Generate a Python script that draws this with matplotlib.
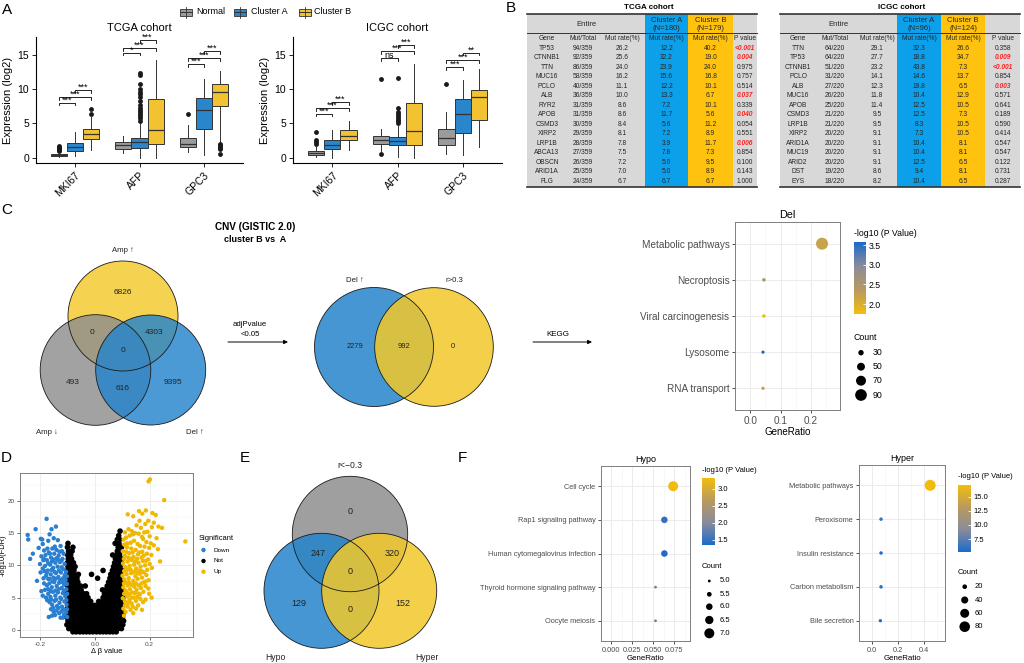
import numpy as np
import matplotlib
matplotlib.use('Agg')
import matplotlib.pyplot as plt
from matplotlib.patches import Rectangle, Circle
from matplotlib.colors import LinearSegmentedColormap, Normalize
from matplotlib.cm import ScalarMappable
from matplotlib.ticker import FormatStrFormatter

plt.rcParams['font.family'] = ['Liberation Sans', 'DejaVu Sans']

W, H = 1024, 663

# ---------------- A: expression boxplots ----------------
box_genes = ['MKI67', 'AFP', 'GPC3']
box_groups = ['Normal', 'Cluster A', 'Cluster B']
box_colors = ['#9b9b9b', '#2a86cc', '#f2c230']

# rows = genes, cols = Normal / Cluster A / Cluster B
tcga_q1 = [[0.25, 1.0, 2.7], [1.3, 1.4, 2.0], [1.5, 4.2, 7.5]]
tcga_med = [[0.4, 1.6, 3.4], [1.8, 2.2, 4.0], [2.0, 6.9, 9.5]]
tcga_q3 = [[0.5, 2.1, 4.2], [2.2, 2.9, 8.6], [2.9, 8.7, 10.8]]
tcga_lo = [[0.05, 0.2, 1.1], [0.6, 0.0, 0.0], [0.8, 0.3, 2.3]]
tcga_hi = [[0.85, 3.7, 5.9], [3.1, 5.0, 14.3], [4.8, 11.4, 12.6]]
tcga_out = [[[1.0, 1.15, 1.3, 1.45, 1.6, 1.7], [], [6.3, 7.1]],
            [[], [5.3, 5.7, 6.0, 6.3, 6.6, 6.9, 7.2, 7.7, 8.2, 8.8, 9.3, 9.6, 10.0, 10.8, 12.0, 12.3], []],
            [[6.3], [], [0.5, 1.2, 1.4, 1.6, 1.8, 2.0]]]
tcga_sig = [(0, 0, 1, 8.0, '***'), (0, 0, 2, 8.8, '***'), (0, 1, 2, 9.85, '***'),
            (1, 0, 1, 15.3, '*'), (1, 0, 2, 16.0, '***'), (1, 1, 2, 17.1, '***'),
            (2, 0, 1, 13.6, '***'), (2, 0, 2, 14.5, '***'), (2, 1, 2, 15.5, '***')]

icgc_q1 = [[0.4, 1.2, 2.5], [2.0, 1.9, 1.9], [1.8, 3.6, 5.5]]
icgc_med = [[0.7, 1.9, 3.2], [2.6, 2.4, 3.9], [2.9, 6.4, 8.9]]
icgc_q3 = [[0.9, 2.6, 4.0], [3.1, 3.0, 7.9], [4.2, 8.5, 9.9]]
icgc_lo = [[0.1, 0.0, 1.1], [1.0, 0.1, 0.0], [0.5, 0.3, 1.6]]
icgc_hi = [[1.6, 4.0, 5.4], [4.1, 4.6, 13.7], [6.6, 11.3, 13.0]]
icgc_out = [[[2.0, 2.3, 2.6, 3.8], [], []],
            [[0.5, 11.5], [5.0, 5.3, 5.5, 5.8, 6.0, 6.3, 6.6, 7.3, 11.6], []],
            [[10.8], [], []]]
icgc_sig = [(0, 0, 1, 6.4, '***'), (0, 0, 2, 7.2, '***'), (0, 1, 2, 8.1, '***'),
            (1, 0, 1, 14.5, 'ns'), (1, 0, 2, 15.5, '***'), (1, 1, 2, 16.4, '***'),
            (2, 0, 1, 13.2, '***'), (2, 0, 2, 14.2, '***'), (2, 1, 2, 15.3, '**')]

# ---------------- B: mutation tables ----------------
tcga_genes = ['TP53', 'CTNNB1', 'TTN', 'MUC16', 'PCLO', 'ALB', 'RYR2', 'APOB', 'CSMD3', 'XIRP2',
              'LRP1B', 'ABCA13', 'OBSCN', 'ARID1A', 'FLG']
tcga_mut = [94, 92, 86, 58, 40, 36, 31, 31, 30, 29, 28, 27, 26, 25, 24]
tcga_total = 359
tcga_rate = [26.2, 25.6, 24.0, 16.2, 11.1, 10.0, 8.6, 8.6, 8.4, 8.1, 7.8, 7.5, 7.2, 7.0, 6.7]
tcga_rate_a = [12.2, 32.2, 23.9, 15.6, 12.2, 13.3, 7.2, 11.7, 5.6, 7.2, 3.9, 7.8, 5.0, 5.0, 6.7]
tcga_rate_b = [40.2, 19.0, 24.0, 16.8, 10.1, 6.7, 10.1, 5.6, 11.2, 8.9, 11.7, 7.3, 9.5, 8.9, 6.7]
tcga_p = ['<0.001', '0.004', '0.975', '0.757', '0.514', '0.037', '0.339', '0.040', '0.054', '0.551',
          '0.006', '0.854', '0.100', '0.143', '1.000']

icgc_genes = ['TTN', 'TP53', 'CTNNB1', 'PCLO', 'ALB', 'MUC16', 'APOB', 'CSMD3', 'LRP1B', 'XIRP2',
              'ARID1A', 'MUC19', 'ARID2', 'DST', 'EYS']
icgc_mut = [64, 64, 51, 31, 27, 26, 25, 21, 21, 20, 20, 20, 20, 19, 18]
icgc_total = 220
icgc_rate = [29.1, 27.7, 23.2, 14.1, 12.3, 11.8, 11.4, 9.5, 9.5, 9.1, 9.1, 9.1, 9.1, 8.6, 8.2]
icgc_rate_a = [32.3, 18.8, 43.8, 14.6, 19.8, 10.4, 12.5, 12.5, 8.3, 7.3, 10.4, 10.4, 12.5, 9.4, 10.4]
icgc_rate_b = [26.6, 34.7, 7.3, 13.7, 6.5, 12.9, 10.5, 7.3, 10.5, 10.5, 8.1, 8.1, 6.5, 8.1, 6.5]
icgc_p = ['0.358', '0.009', '<0.001', '0.854', '0.003', '0.571', '0.641', '0.189', '0.590', '0.414',
          '0.547', '0.547', '0.122', '0.731', '0.287']

# ---------------- C: CNV venns + KEGG (Del) ----------------
cnv_sets = ['Amp ↑', 'Amp ↓', 'Del ↑']
# only AmpUp, AmpUp&AmpDown, AmpUp&DelUp, all three, only AmpDown, AmpDown&DelUp, only DelUp
cnv_counts = [6826, 0, 4303, 0, 493, 616, 9395]
del_sets = ['Del ↑', 'r>0.3']
del_counts = [2279, 992, 0]

del_terms = ['Metabolic pathways', 'Necroptosis', 'Viral carcinogenesis', 'Lysosome', 'RNA transport']
del_ratio = [0.236, 0.045, 0.045, 0.042, 0.042]
del_count = [94, 18, 18, 17, 17]
del_logp = [2.2, 2.6, 1.8, 3.55, 2.2]

# ---------------- D: volcano ----------------
down_pts = [(-0.245, 14.7), (-0.243, 14.0), (-0.236, 11.0), (-0.226, 11.8), (-0.216, 15.6), (-0.211, 7.6),
            (-0.176, 17.2), (-0.158, 15.6), (-0.142, 16.0), (-0.197, 14.1), (-0.192, 14.0), (-0.185, 12.3),
            (-0.205, 12.7), (-0.19, 13.3), (-0.165, 14.8), (-0.15, 14.2), (-0.17, 13.8), (-0.135, 13.9),
            (-0.125, 13.0), (-0.12, 12.2), (-0.18, 11.6), (-0.175, 10.8), (-0.168, 12.0), (-0.16, 11.2),
            (-0.155, 12.6), (-0.148, 11.8), (-0.14, 12.4), (-0.132, 11.5), (-0.118, 11.0), (-0.11, 10.2),
            (-0.19, 9.5), (-0.182, 9.9), (-0.172, 9.2), (-0.163, 10.1), (-0.152, 9.6), (-0.144, 10.4),
            (-0.136, 9.8), (-0.127, 10.5), (-0.115, 9.4), (-0.105, 9.0), (-0.178, 8.4), (-0.17, 7.9),
            (-0.161, 8.6), (-0.151, 8.1), (-0.142, 8.8), (-0.133, 8.2), (-0.124, 8.9), (-0.116, 8.0),
            (-0.107, 7.7), (-0.187, 8.0), (-0.175, 6.9), (-0.166, 7.2), (-0.157, 6.6), (-0.148, 7.4),
            (-0.139, 6.8), (-0.13, 7.3), (-0.121, 6.5), (-0.112, 7.0), (-0.104, 6.3), (-0.182, 6.2),
            (-0.17, 5.6), (-0.162, 5.1), (-0.153, 5.9), (-0.144, 5.3), (-0.135, 5.8), (-0.126, 5.0),
            (-0.117, 5.7), (-0.108, 5.2), (-0.19, 5.3), (-0.178, 5.0), (-0.165, 4.3), (-0.156, 3.9),
            (-0.147, 4.5), (-0.138, 3.7), (-0.129, 4.2), (-0.12, 3.6), (-0.111, 4.4), (-0.103, 3.9),
            (-0.16, 3.2), (-0.15, 2.8), (-0.14, 3.0), (-0.13, 2.6), (-0.121, 2.9), (-0.112, 2.4),
            (-0.105, 2.7), (-0.168, 2.0), (-0.145, 2.3), (-0.125, 1.9), (-0.135, 10.9), (-0.157, 10.6),
            (-0.188, 10.8), (-0.195, 11.4), (-0.2, 10.2), (-0.198, 8.9), (-0.185, 7.2), (-0.195, 6.0),
            (-0.186, 11.0), (-0.173, 12.6), (-0.164, 11.8), (-0.146, 12.9), (-0.129, 12.1), (-0.114, 11.8),
            (-0.122, 10.7), (-0.139, 11.1), (-0.15, 10.9), (-0.17, 10.3), (-0.184, 9.1), (-0.175, 8.9),
            (-0.158, 9.3), (-0.147, 9.0), (-0.131, 9.2), (-0.121, 9.7), (-0.11, 8.5), (-0.102, 8.3),
            (-0.165, 7.9), (-0.154, 7.5), (-0.143, 7.9), (-0.127, 7.7), (-0.118, 7.4), (-0.102, 7.1),
            (-0.171, 6.3), (-0.161, 6.0), (-0.143, 6.1), (-0.132, 6.3), (-0.113, 6.1), (-0.101, 5.6),
            (-0.174, 4.6), (-0.16, 4.7), (-0.141, 4.7), (-0.123, 4.8), (-0.104, 4.6), (-0.152, 3.4),
            (-0.133, 3.4), (-0.115, 3.2), (-0.102, 3.2), (-0.156, 2.2), (-0.117, 1.9), (-0.101, 2.0)]

up_pts = [(0.196, 23.0), (0.201, 23.3), (0.253, 20.1), (0.33, 13.7), (0.238, 10.6), (0.245, 15.8),
          (0.232, 16.0), (0.186, 18.5), (0.173, 18.0), (0.161, 18.4), (0.14, 17.6), (0.12, 17.9),
          (0.215, 16.6), (0.195, 16.9), (0.21, 18.1), (0.222, 17.8), (0.23, 12.5), (0.225, 14.2),
          (0.105, 14.0), (0.11, 15.1), (0.118, 13.4), (0.127, 14.6), (0.135, 15.3), (0.143, 13.8),
          (0.152, 16.2), (0.16, 14.9), (0.168, 15.8), (0.176, 14.1), (0.184, 16.4), (0.192, 15.2),
          (0.2, 14.5), (0.208, 15.9), (0.102, 12.2), (0.109, 11.5), (0.117, 12.8), (0.125, 11.9),
          (0.133, 12.6), (0.141, 11.3), (0.149, 12.4), (0.157, 11.7), (0.165, 13.0), (0.173, 12.1),
          (0.181, 12.9), (0.19, 11.8), (0.198, 12.7), (0.206, 11.6), (0.215, 13.1), (0.103, 10.3),
          (0.111, 9.7), (0.119, 10.6), (0.127, 9.9), (0.135, 10.8), (0.143, 10.1), (0.151, 9.5),
          (0.159, 10.4), (0.167, 9.8), (0.175, 10.7), (0.183, 10.0), (0.191, 9.3), (0.2, 10.2),
          (0.208, 9.6), (0.101, 8.4), (0.108, 7.8), (0.116, 8.6), (0.124, 8.0), (0.132, 8.8),
          (0.14, 7.6), (0.148, 8.3), (0.156, 7.9), (0.164, 8.7), (0.172, 8.1), (0.18, 7.4),
          (0.188, 8.5), (0.196, 7.7), (0.104, 6.6), (0.112, 6.1), (0.12, 6.9), (0.128, 6.3),
          (0.136, 5.8), (0.144, 6.7), (0.152, 6.2), (0.16, 5.6), (0.168, 6.5), (0.177, 5.9),
          (0.185, 6.8), (0.195, 6.4), (0.102, 4.9), (0.11, 4.4), (0.118, 5.2), (0.126, 4.6),
          (0.134, 4.1), (0.142, 5.0), (0.15, 4.5), (0.158, 3.8), (0.166, 4.8), (0.176, 4.3),
          (0.104, 3.3), (0.112, 2.8), (0.12, 3.6), (0.13, 3.1), (0.106, 2.2), (0.14, 2.6),
          (0.172, 3.1), (0.185, 4.7), (0.207, 5.0), (0.198, 5.6),
          (0.107, 13.2), (0.114, 14.3), (0.123, 15.6), (0.131, 13.5), (0.139, 14.8), (0.147, 15.0),
          (0.156, 13.3), (0.163, 16.9), (0.172, 14.4), (0.18, 15.1), (0.188, 13.6), (0.204, 13.4),
          (0.106, 11.0), (0.114, 12.1), (0.122, 11.2), (0.13, 11.0), (0.138, 12.0), (0.146, 10.6),
          (0.154, 11.0), (0.162, 12.0), (0.17, 11.2), (0.178, 11.5), (0.186, 10.7), (0.194, 10.9),
          (0.107, 9.1), (0.115, 9.2), (0.123, 9.4), (0.131, 9.3), (0.139, 8.9), (0.147, 9.1),
          (0.155, 8.8), (0.163, 9.2), (0.171, 9.1), (0.179, 8.9), (0.106, 7.2), (0.115, 7.3),
          (0.124, 7.4), (0.133, 7.0), (0.142, 7.1), (0.15, 7.2), (0.16, 6.9), (0.17, 7.2),
          (0.185, 7.5), (0.107, 5.6), (0.116, 5.8), (0.125, 5.5), (0.134, 5.0), (0.146, 5.7),
          (0.155, 5.1), (0.164, 5.5), (0.11, 3.8), (0.122, 4.2), (0.138, 3.6), (0.15, 3.3)]

# not significant: rows of (-log10 FDR, delta beta values)
not_rows = [
    (-0.3, [-0.08, -0.068, -0.055, -0.043, -0.031, -0.019, -0.007, 0.006, 0.018, 0.03, 0.042, 0.054, 0.066, 0.078]),
    (0.2, [-0.095, -0.083, -0.071, -0.059, -0.047, -0.035, -0.023, -0.011, 0.001, 0.013, 0.025, 0.037, 0.049,
           0.061, 0.073, 0.085, 0.097]),
    (0.8, [-0.102, -0.09, -0.078, -0.066, -0.054, -0.042, -0.03, -0.018, -0.006, 0.006, 0.018, 0.03, 0.042,
           0.054, 0.066, 0.078, 0.09, 0.102]),
    (1.4, [-0.098, -0.086, -0.074, -0.062, -0.05, -0.038, -0.026, -0.014, -0.002, 0.01, 0.022, 0.034, 0.046,
           0.058, 0.07, 0.082, 0.094, 0.105]),
    (2.0, [-0.103, -0.091, -0.079, -0.067, -0.055, -0.043, -0.031, -0.019, -0.007, 0.005, 0.017, 0.029, 0.041,
           0.053, 0.065, 0.077, 0.089, 0.101]),
    (2.6, [-0.099, -0.087, -0.075, -0.063, -0.051, -0.039, -0.027, -0.015, -0.003, 0.009, 0.021, 0.033, 0.045,
           0.057, 0.069, 0.081, 0.093, 0.104]),
    (3.2, [-0.102, -0.09, -0.078, -0.066, -0.054, -0.042, -0.03, -0.018, -0.006, 0.005, 0.014, 0.026, 0.038,
           0.05, 0.062, 0.074, 0.086, 0.098]),
    (3.8, [-0.098, -0.086, -0.074, -0.062, -0.05, -0.038, -0.026, -0.012, 0.0, 0.012, 0.024, 0.036, 0.048,
           0.06, 0.072, 0.084, 0.096]),
    (4.4, [-0.101, -0.089, -0.077, -0.065, -0.053, -0.041, -0.029, -0.015, 0.014, 0.027, 0.039, 0.051, 0.063,
           0.075, 0.087, 0.099]),
    (5.0, [-0.099, -0.087, -0.075, -0.063, -0.051, -0.038, -0.025, 0.03, 0.042, 0.054, 0.066, 0.078, 0.09, 0.102]),
    (5.6, [-0.102, -0.09, -0.078, -0.066, -0.054, -0.041, -0.03, 0.035, 0.047, 0.059, 0.071, 0.083, 0.095]),
    (6.2, [-0.099, -0.087, -0.075, -0.063, -0.05, 0.028, 0.04, 0.052, 0.064, 0.076, 0.088, 0.1]),
    (6.8, [-0.1, -0.088, -0.076, -0.064, -0.052, -0.035, 0.045, 0.057, 0.069, 0.081, 0.093]),
    (7.4, [-0.098, -0.086, -0.074, -0.062, 0.05, 0.062, 0.074, 0.086, 0.098]),
    (8.0, [-0.101, -0.089, -0.077, -0.065, 0.01, 0.055, 0.067, 0.079, 0.091]),
    (8.6, [-0.099, -0.087, -0.075, -0.06, -0.012, 0.058, 0.07, 0.082, 0.094]),
    (9.2, [-0.1, -0.088, -0.076, 0.03, 0.064, 0.076, 0.088, 0.1]),
    (9.8, [-0.098, -0.086, -0.072, 0.068, 0.08, 0.092]),
    (10.4, [-0.1, -0.088, -0.078, 0.072, 0.084, 0.096]),
    (11.0, [-0.097, -0.085, 0.075, 0.087, 0.099]),
    (11.6, [-0.099, -0.088, 0.065, 0.078, 0.09]),
    (12.2, [-0.096, -0.083, 0.082, 0.094]),
    (12.8, [-0.1, -0.08, 0.085, 0.097]),
    (13.4, [-0.098, 0.074, 0.088]),
    (14.0, [0.082, 0.09]),
    (14.6, [0.087]),
    (15.3, [0.092]),
]

# ---------------- E / F: methylation ----------------
meth_sets = ['r<−0.3', 'Hypo', 'Hyper']
# only r, r&Hypo, r&Hyper, all three, only Hypo, Hypo&Hyper, only Hyper
meth_counts = [0, 247, 320, 0, 129, 0, 152]

hypo_terms = ['Cell cycle', 'Rap1 signaling pathway', 'Human cytomegalovirus infection',
              'Thyroid hormone signaling pathway', 'Oocyte meiosis']
hypo_ratio = [0.0737, 0.0632, 0.0632, 0.0526, 0.0526]
hypo_count = [7, 6, 6, 5, 5]
hypo_logp = [3.3, 1.5, 1.38, 1.8, 1.8]

hyper_terms = ['Metabolic pathways', 'Peroxisome', 'Insulin resistance', 'Carbon metabolism', 'Bile secretion']
hyper_ratio = [0.446, 0.069, 0.069, 0.069, 0.064]
hyper_count = [86, 13, 13, 13, 12]
hyper_logp = [17.0, 6.2, 5.5, 5.6, 5.3]

cmap_yb = LinearSegmentedColormap.from_list('yb', ['#f3bd0c', '#b89a60', '#8a8b9a', '#1b6bcb'])
cmap_by = cmap_yb.reversed()


def px_rect(l, t, r, b):
    return [l / W, 1 - b / H, (r - l) / W, (b - t) / H]


fig = plt.figure(figsize=(W / 100, H / 100), dpi=100)
ov = fig.add_axes([0, 0, 1, 1])
ov.set_xlim(0, W)
ov.set_ylim(H, 0)
ov.axis('off')
ov.patch.set_alpha(0)

for lab, x, y in [('A', 7, 10), ('B', 511, 8), ('C', 7, 210), ('D', 6, 458), ('E', 245, 458), ('F', 462, 458)]:
    ov.text(x, y, lab, fontsize=11, ha='center', va='center')


def box_panel(rect, title, q1, med, q3, lo, hi, out, sig):
    ax = fig.add_axes(px_rect(*rect))
    offs = [-0.25, 0.0, 0.25]
    for gi in range(3):
        for k in range(3):
            st = dict(med=med[gi][k], q1=q1[gi][k], q3=q3[gi][k], whislo=lo[gi][k],
                      whishi=hi[gi][k], fliers=out[gi][k])
            ax.bxp([st], positions=[gi + 1 + offs[k]], widths=0.25, patch_artist=True,
                   showcaps=False, manage_ticks=False,
                   boxprops=dict(facecolor=box_colors[k], edgecolor='#333333', linewidth=0.7),
                   medianprops=dict(color='#333333', linewidth=0.9),
                   whiskerprops=dict(color='#333333', linewidth=0.7),
                   flierprops=dict(marker='o', markerfacecolor='#1a1a1a', markeredgecolor='none',
                                   markersize=3.5))
    for gi, a, b, y, lab in sig:
        x1, x2 = gi + 1 + offs[a], gi + 1 + offs[b]
        ax.plot([x1, x1, x2, x2], [y - 0.4, y, y, y - 0.4], color='black', lw=0.6)
        ax.text((x1 + x2) / 2, y + 0.05, lab, ha='center', va='baseline', fontsize=6.5)
    ax.set_xlim(0.4, 3.6)
    ax.set_ylim(-0.8, 17.6)
    ax.set_xticks([1, 2, 3])
    ax.set_xticklabels(box_genes, rotation=45, ha='right', rotation_mode='anchor')
    ax.set_yticks([0, 5, 10, 15])
    ax.tick_params(labelsize=7.5, length=3, width=0.6, pad=2)
    for s in ['top', 'right']:
        ax.spines[s].set_visible(False)
    for s in ['left', 'bottom']:
        ax.spines[s].set_linewidth(0.8)
    ax.set_ylabel('Expression (log2)', fontsize=8, labelpad=3)
    ax.set_title(title, fontsize=8, pad=4)
    return ax


box_panel((36, 37, 243, 163), 'TCGA cohort', tcga_q1, tcga_med, tcga_q3, tcga_lo, tcga_hi, tcga_out, tcga_sig)
box_panel((293, 37, 502, 163), 'ICGC cohort', icgc_q1, icgc_med, icgc_q3, icgc_lo, icgc_hi, icgc_out, icgc_sig)

# group legend on top
for cx, tx, name, col in zip([186, 240, 305], [196, 251, 314], box_groups, box_colors):
    ov.plot([cx, cx], [6.5, 17.5], color='#333333', lw=0.6)
    ov.add_patch(Rectangle((cx - 6, 8.5), 12, 7, facecolor=col, edgecolor='#333333', lw=0.6))
    ov.plot([cx - 6, cx + 6], [12, 12], color='#333333', lw=0.7)
    ov.text(tx, 12, name, fontsize=6.5, va='center', ha='left')


def draw_table(edges, centers, title, title_x, n_a, n_b, genes, mut, total, rate, ra, rb, pv):
    top, hline, bot = 14, 33.3, 186.7
    x0, xa, xb, xc, x1 = edges
    ov.add_patch(Rectangle((x0, top), x1 - x0, bot - top, facecolor='#d8d8d8', edgecolor='none'))
    ov.add_patch(Rectangle((xa, top), xb - xa, bot - top, facecolor='#0da0ea', edgecolor='none'))
    ov.add_patch(Rectangle((xb, top), xc - xb, bot - top, facecolor='#ffc20e', edgecolor='none'))
    ov.plot([x0, x1], [top, top], color='#333333', lw=1.2)
    ov.plot([x0, x1], [hline, hline], color='#333333', lw=0.7)
    ov.plot([x0, x1], [bot, bot], color='#333333', lw=1.2)
    tc = '#262626'
    fs = 4.8
    ov.text(title_x, 7.5, title, fontsize=5.8, fontweight='bold', ha='center', va='center')
    ov.text((x0 + xa) / 2, 24.3, 'Entire', fontsize=5.5, ha='center', va='center', color=tc)
    ov.text(centers[3], 20, 'Cluster A', fontsize=5.5, ha='center', va='center', color=tc)
    ov.text(centers[3], 28.3, '(N=%d)' % n_a, fontsize=5.5, ha='center', va='center', color=tc)
    ov.text(centers[4], 20, 'Cluster B', fontsize=5.5, ha='center', va='center', color=tc)
    ov.text(centers[4], 28.3, '(N=%d)' % n_b, fontsize=5.5, ha='center', va='center', color=tc)
    heads = ['Gene', 'Mut/Total', 'Mut rate(%)', 'Mut rate(%)', 'Mut rate(%)', 'P value']
    for cx, h in zip(centers, heads):
        ov.text(cx, 38.5, h, fontsize=fs, ha='center', va='center', color=tc)
    for i in range(len(genes)):
        y = 48 + i * 9.52
        cells = [genes[i], '%d/%d' % (mut[i], total), '%.1f' % rate[i], '%.1f' % ra[i], '%.1f' % rb[i]]
        for cx, s in zip(centers[:5], cells):
            ov.text(cx, y, s, fontsize=fs, ha='center', va='center', color=tc)
        sig = pv[i].startswith('<') or float(pv[i]) < 0.05
        if sig:
            ov.text(centers[5], y, pv[i], fontsize=fs, ha='center', va='center', color='#ff1f1f',
                    fontweight='bold', fontstyle='italic')
        else:
            ov.text(centers[5], y, pv[i], fontsize=fs, ha='center', va='center', color=tc)


draw_table([527, 645, 688, 733, 757], [547, 583, 622, 666.5, 710.5, 745], 'TCGA cohort', 649, 180, 179,
           tcga_genes, tcga_mut, tcga_total, tcga_rate, tcga_rate_a, tcga_rate_b, tcga_p)
draw_table([780, 897, 941, 985, 1020], [798, 835, 877, 919, 963, 1003], 'ICGC cohort', 902, 96, 124,
           icgc_genes, icgc_mut, icgc_total, icgc_rate, icgc_rate_a, icgc_rate_b, icgc_p)


# ---------------- venn diagrams ----------------
def venn(circles, colors, alpha, counts, count_xy, labels, label_xy, fs_n, fs_l):
    for (cx, cy, r), col in zip(circles, colors):
        ov.add_patch(Circle((cx, cy), r, facecolor=col, alpha=alpha, edgecolor='none'))
    for (cx, cy, r) in circles:
        ov.add_patch(Circle((cx, cy), r, facecolor='none', edgecolor='#1a1a1a', lw=0.6))
    for n, (x, y) in zip(counts, count_xy):
        ov.text(x, y, str(n), fontsize=fs_n, ha='center', va='center', color='#222222')
    for lab, (x, y) in zip(labels, label_xy):
        ov.text(x, y, lab, fontsize=fs_l, ha='center', va='center', color='#222222')


ov.text(255, 227, 'CNV (GISTIC 2.0)', fontsize=7.2, fontweight='bold', ha='center', va='center')
ov.text(255, 240, 'cluster B vs  A', fontsize=6.5, fontweight='bold', ha='center', va='center')

venn([(123, 316, 55), (95.5, 370, 55.3), (150.7, 370, 55)], ['#f3c82a', '#8e8e8e', '#2484cc'], 0.82,
     cnv_counts, [(122.7, 293), (91.7, 333), (153.7, 333), (122.7, 350.7), (72.7, 382.7), (122.7, 388.3),
                  (172.7, 382.7)],
     cnv_sets, [(122.7, 250), (46.7, 433), (195, 433)], 6, 5.6)

venn([(374, 347, 59.5), (434, 347, 59.3)], ['#2484cc', '#f3c82a'], 0.85,
     del_counts, [(355, 347), (404, 347), (452.7, 347)],
     del_sets, [(355, 280), (454, 280)], 5.4, 5.6)

venn([(350, 534, 57.7), (321.5, 590.8, 57.5), (379.2, 590.8, 57.5)], ['#8e8e8e', '#2484cc', '#f3c82a'], 0.85,
     meth_counts, [(350, 511), (318.3, 553.3), (391.7, 553.3), (350, 571), (299.3, 604), (350, 610),
                   (402.7, 604)],
     meth_sets, [(350, 465), (275, 657), (426.7, 657)], 6.5, 6.2)

# arrows
ov.text(250, 325, 'adjPvalue', fontsize=5.6, ha='center', va='center')
ov.text(250, 335, '<0.05', fontsize=5.6, ha='center', va='center')
ov.annotate('', xy=(288, 342), xytext=(228, 342),
            arrowprops=dict(arrowstyle='-|>', lw=0.7, color='black', mutation_scale=6, shrinkA=0, shrinkB=0))
ov.text(558, 335, 'KEGG', fontsize=5.8, ha='center', va='center')
ov.annotate('', xy=(592, 342), xytext=(533, 342),
            arrowprops=dict(arrowstyle='-|>', lw=0.7, color='black', mutation_scale=6, shrinkA=0, shrinkB=0))


# ---------------- dot plots ----------------
def dot_px(c, lo, hi, dmin, dmax):
    c = np.asarray(c, dtype=float)
    return dmin + (dmax - dmin) * (np.sqrt(c) - np.sqrt(lo)) / (np.sqrt(hi) - np.sqrt(lo))


def dotplot(rect, title, terms, ratio, count, logp, cmap, vlim, size_rng, xlim, xticks, xfmt, fs_y, fs_t):
    ax = fig.add_axes(px_rect(*rect))
    n = len(terms)
    ys = np.arange(n)[::-1]
    lo, hi, dmin, dmax = size_rng
    ax.scatter(ratio, ys, s=(dot_px(count, lo, hi, dmin, dmax) * 0.72) ** 2, c=logp, cmap=cmap,
               vmin=vlim[0], vmax=vlim[1], edgecolors='none', zorder=3)
    ax.set_yticks(ys)
    ax.set_yticklabels(terms)
    ax.set_ylim(-0.6, n - 0.4)
    ax.set_xlim(*xlim)
    ax.set_xticks(xticks)
    step = xticks[1] - xticks[0]
    ax.set_xticks([t + step / 2 for t in [xticks[0] - step] + list(xticks)], minor=True)
    ax.xaxis.set_major_formatter(FormatStrFormatter(xfmt))
    ax.grid(True, which='major', color='#ebebeb', lw=0.7)
    ax.grid(True, which='minor', axis='x', color='#f2f2f2', lw=0.4)
    ax.set_axisbelow(True)
    ax.tick_params(which='major', labelsize=fs_y, length=2.5, width=0.6, color='#333333',
                   labelcolor='#4d4d4d', pad=1.5)
    ax.tick_params(which='minor', length=0)
    for s in ax.spines.values():
        s.set_color('#7f7f7f')
        s.set_linewidth(0.7)
    ax.set_title(title, fontsize=fs_t, pad=3)
    ax.set_xlabel('GeneRatio', fontsize=fs_t - 0.8, labelpad=1)
    return ax


def colorbar(rect, cmap, vlim, ticks, title_xy, fs):
    cax = fig.add_axes(px_rect(*rect))
    cb = fig.colorbar(ScalarMappable(norm=Normalize(*vlim), cmap=cmap), cax=cax)
    cb.outline.set_visible(False)
    cb.set_ticks(ticks)
    cax.yaxis.set_major_formatter(FormatStrFormatter('%.1f'))
    cax.tick_params(length=2.5, width=0.6, color='white', direction='in', labelsize=fs, pad=2)
    ov.text(title_xy[0], title_xy[1], '-log10 (P Value)', fontsize=fs, ha='left', va='center')


def size_legend(x_title, y_title, x_dot, x_lab, ys, vals, size_rng, fs, fmt):
    lo, hi, dmin, dmax = size_rng
    ov.text(x_title, y_title, 'Count', fontsize=fs, ha='left', va='center')
    for y, v in zip(ys, vals):
        ov.scatter([x_dot], [y], s=(dot_px(v, lo, hi, dmin, dmax) * 0.72) ** 2, color='black',
                   edgecolors='none')
        ov.text(x_lab, y, fmt % v, fontsize=fs, ha='left', va='center')


del_size = (17, 94, 3.3, 12)
dotplot((735, 222, 840, 410), 'Del', del_terms, del_ratio, del_count, del_logp, cmap_yb, (1.75, 3.58),
        del_size, (-0.015, 0.295), [0.0, 0.1, 0.2], '%.1f', 7.2, 7.8)
colorbar((854, 242, 866, 314), cmap_yb, (1.75, 3.58), [2.0, 2.5, 3.0, 3.5], (854, 234), 6.3)
size_legend(854, 337, 861, 873, [352.7, 366.7, 380.7, 395], [30, 50, 70, 90], del_size, 6.3, '%d')

hypo_size = (5, 7, 2.8, 10)
dotplot((601, 466, 690, 641), 'Hypo', hypo_terms, hypo_ratio, hypo_count, hypo_logp, cmap_by, (1.35, 3.32),
        hypo_size, (-0.0048, 0.0938), [0.0, 0.025, 0.05, 0.075], '%.3f', 5.3, 6.5)
colorbar((702, 478, 715, 545), cmap_by, (1.35, 3.32), [1.5, 2.0, 2.5, 3.0], (702, 470.7), 5.5)
size_legend(702, 566, 709.3, 720, [581, 594.3, 606.7, 620, 633.3], [5.0, 5.5, 6.0, 6.5, 7.0], hypo_size,
            5.5, '%.1f')

hyper_size = (12, 86, 3.3, 11)
dotplot((859, 465, 945, 641), 'Hyper', hyper_terms, hyper_ratio, hyper_count, hyper_logp, cmap_by, (5.2, 17.1),
        hyper_size, (-0.03, 0.56), [0.0, 0.2, 0.4], '%.1f', 5.3, 6.5)
colorbar((958, 485, 971, 552), cmap_by, (5.2, 17.1), [7.5, 10.0, 12.5, 15.0], (958, 477), 5.5)
size_legend(958, 572.7, 964.7, 975, [586.7, 600, 613.3, 626.7], [20, 40, 60, 80], hyper_size, 5.5, '%d')

# ---------------- D: volcano ----------------
axd = fig.add_axes(px_rect(20, 473, 193, 637))
not_x = [x for y, xs in not_rows for x in xs]
not_y = [y for y, xs in not_rows for x in xs]
dn = np.array(down_pts)
up = np.array(up_pts)
s_pt = (4.4 * 0.72) ** 2
axd.scatter(not_x, not_y, s=(5.6 * 0.72) ** 2, color='black', edgecolors='none', zorder=3)
axd.scatter(dn[:, 0], dn[:, 1], s=s_pt, color='#2a7fd0', edgecolors='none', zorder=3)
axd.scatter(up[:, 0], up[:, 1], s=s_pt, color='#f0b800', edgecolors='none', zorder=3)
axd.set_xlim(-0.273, 0.358)
axd.set_ylim(-1.1, 24.3)
axd.set_xticks([-0.2, 0.0, 0.2])
axd.set_xticks([-0.1, 0.1, 0.3], minor=True)
axd.set_yticks([0, 5, 10, 15, 20])
axd.set_yticks([2.5, 7.5, 12.5, 17.5, 22.5], minor=True)
axd.xaxis.set_major_formatter(FormatStrFormatter('%.1f'))
axd.grid(True, which='major', color='#ebebeb', lw=0.6)
axd.grid(True, which='minor', color='#f3f3f3', lw=0.35)
axd.set_axisbelow(True)
axd.tick_params(which='major', labelsize=4.6, length=2, width=0.5, color='#333333', labelcolor='#4d4d4d', pad=1.5)
axd.tick_params(which='minor', length=0)
for s in axd.spines.values():
    s.set_color('#7f7f7f')
    s.set_linewidth(0.7)
axd.set_xlabel('Δ β value', fontsize=5.4, labelpad=1)
axd.set_ylabel('-log10(FDR)', fontsize=5.4, labelpad=1)

ov.text(199, 538, 'Significant', fontsize=5.4, ha='left', va='center')
for y, name, col in zip([550, 561, 571.7], ['Down', 'Not', 'Up'], ['#2a7fd0', 'black', '#f0b800']):
    ov.scatter([203.5], [y], s=s_pt, color=col, edgecolors='none')
    ov.text(213, y, name, fontsize=4.6, ha='left', va='center')

fig.savefig('out.png', dpi=100)
